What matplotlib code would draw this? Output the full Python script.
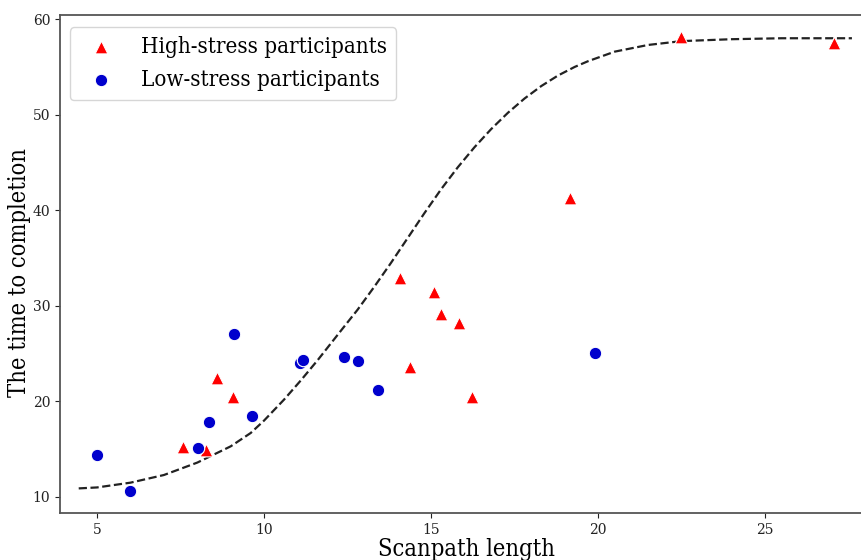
import numpy as np
import matplotlib
matplotlib.use("Agg")
import matplotlib.pyplot as plt
from matplotlib.font_manager import FontProperties

plt.rcParams['font.family'] = ['DejaVu Serif']

# high-stress participants (scanpath length, time to completion)
high_x = [7.57, 8.26, 8.59, 9.07, 14.07, 14.37, 15.09, 15.30, 15.84, 16.23, 19.16, 22.49, 27.07]
high_y = [15.2, 14.9, 22.4, 20.5, 32.9, 23.6, 31.5, 29.1, 28.2, 20.5, 41.3, 58.1, 57.5]

# low-stress participants
low_x = [5.00, 5.99, 8.02, 8.35, 9.10, 9.64, 11.08, 11.17, 12.40, 12.81, 13.41, 19.90]
low_y = [14.4, 10.6, 15.1, 17.8, 27.05, 18.5, 24.0, 24.3, 24.6, 24.2, 21.2, 25.1]

# fitted curve
curve_x = [4.45, 5.0, 6.0, 7.0, 8.0, 9.0, 9.6, 10.0, 10.6, 11.1, 11.6, 12.3, 12.8, 13.3,
           13.8, 14.3, 14.8, 15.3, 15.8, 16.3, 16.8, 17.3, 17.8, 18.3, 18.8, 19.3,
           19.7, 20.5, 21.5, 22.5, 24.0, 25.5, 27.6]
curve_y = [10.9, 11.0, 11.5, 12.3, 13.6, 15.3, 16.7, 18.0, 20.2, 22.2, 24.3, 27.4, 29.6, 32.0,
           34.5, 37.1, 39.7, 42.2, 44.5, 46.6, 48.5, 50.2, 51.7, 53.0, 54.1, 55.0,
           55.6, 56.6, 57.3, 57.7, 57.9, 58.0, 58.0]

label_font = FontProperties(family='DejaVu Serif', stretch='condensed', size=17)
legend_font = FontProperties(family='DejaVu Serif', stretch='condensed', size=16)

fig = plt.figure(figsize=(8.61, 5.6), dpi=100)
# axes runs a little past the right edge of the canvas, as in the original crop
ax = fig.add_axes([0.0697, 0.084, 812 / 861, 0.889])

ax.plot(curve_x, curve_y, linestyle='--', color='#222222', linewidth=1.6, zorder=1)
ax.scatter(high_x, high_y, marker='^', s=85, color='red', edgecolors='white',
           linewidths=0.8, label='High-stress participants', zorder=3)
ax.scatter(low_x, low_y, marker='o', s=80, color='mediumblue', edgecolors='white',
           linewidths=0.8, label='Low-stress participants', zorder=3)

ax.set_xlim(3.89, 3.89 + 812 / 33.4)
ax.set_ylim(8.33, 60.42)
ax.set_xticks([5, 10, 15, 20, 25])
ax.set_yticks([10, 20, 30, 40, 50, 60])
ax.tick_params(labelsize=10, colors='#222222')

for sp in ax.spines.values():
    sp.set_color('#555555')
    sp.set_linewidth(1.3)

ax.set_xlabel('Scanpath length', fontproperties=label_font, labelpad=1)
ax.set_ylabel('The time to completion', fontproperties=label_font)
ax.yaxis.set_label_coords(-0.036, 0.484)

ax.legend(loc='upper left', prop=legend_font, borderaxespad=0.45,
          bbox_to_anchor=(0, 0.996))

fig.savefig('out.png', dpi=100)
